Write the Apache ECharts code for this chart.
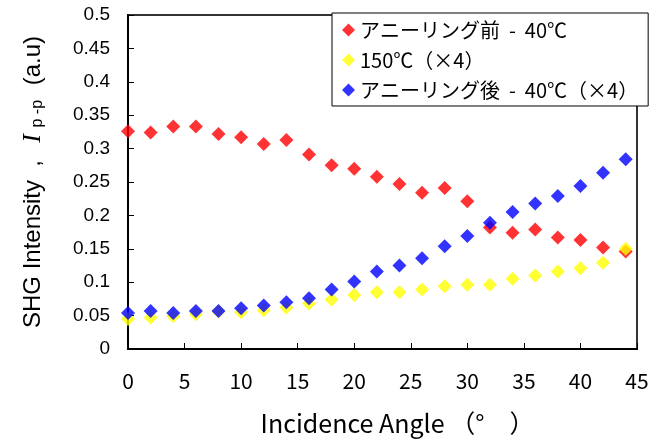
<!DOCTYPE html>
<html>
<head>
<meta charset="utf-8">
<script src="https://cdn.jsdelivr.net/npm/echarts@6/dist/echarts.min.js"></script>
<style>html,body{margin:0;padding:0;background:#fff;}#c{width:660px;height:441px;}</style>
</head>
<body>
<div id="c"></div>
<script>
const angles = [0,2,4,6,8,10,12,14,16,18,20,22,24,26,28,30,32,34,36,38,40,42,44];
const before40 = [0.326,0.324,0.333,0.333,0.322,0.317,0.307,0.313,0.291,0.275,0.270,0.258,0.247,0.234,0.241,0.221,0.182,0.174,0.179,0.167,0.163,0.152,0.146];
const c150x4 = [0.045,0.047,0.049,0.052,0.056,0.055,0.058,0.062,0.068,0.074,0.081,0.085,0.085,0.089,0.094,0.096,0.096,0.105,0.110,0.116,0.121,0.129,0.150];
const after40x4 = [0.054,0.057,0.054,0.057,0.057,0.061,0.065,0.070,0.076,0.089,0.101,0.116,0.125,0.136,0.154,0.169,0.189,0.205,0.218,0.229,0.244,0.264,0.284];
const seriesNames = ['アニーリング前  -  40℃','150℃（×4）','アニーリング後  -  40℃（×4）'];
const seriesColors = ['#ff0000','#ffff00','#0000ff'];
const xTicks = {min:0,max:45,interval:5};
const yTicks = {min:0,max:0.5,interval:0.05};

const chart = echarts.init(document.getElementById('c'), null, {renderer:'canvas'});
const mk = (name, vals, color) => ({
  name, type:'scatter', symbol:'diamond', symbolSize:14,
  itemStyle:{color:color},
  data: angles.map((a,i)=>[a, vals[i]])
});
chart.setOption({
  animation:false,
  backgroundColor:'#fff',
  grid:{left:128, top:15, width:509, height:335, show:true, borderColor:'#333', borderWidth:2, backgroundColor:'transparent'},
  legend:{
    orient:'vertical', left:332, top:13,
    backgroundColor:'#fff', borderColor:'#000', borderWidth:1, borderRadius:0,
    padding:[7,10,6,10], itemGap:10, itemWidth:13, itemHeight:13,
    icon:'diamond',
    textStyle:{fontFamily:'Noto Sans CJK JP', fontSize:20, color:'#000'},
    data: seriesNames
  },
  xAxis:{
    type:'value', min:xTicks.min, max:xTicks.max, interval:xTicks.interval,
    axisLine:{lineStyle:{color:'#000', width:2}},
    axisTick:{inside:true, length:6, lineStyle:{color:'#000'}},
    splitLine:{show:false},
    axisLabel:{fontFamily:'Noto Sans CJK JP', fontSize:21, color:'#000', margin:22},
    name:'Incidence Angle （°　）', nameLocation:'middle', nameGap:62,
    nameTextStyle:{fontFamily:'Noto Sans CJK JP', fontSize:25, color:'#000', padding:[0,0,0,30]}
  },
  yAxis:{
    type:'value', min:yTicks.min, max:yTicks.max, interval:yTicks.interval,
    axisLine:{lineStyle:{color:'#000', width:2}},
    axisTick:{inside:true, length:6, lineStyle:{color:'#000'}},
    splitLine:{show:false},
    axisLabel:{fontFamily:'Liberation Sans', fontSize:19, color:'#000', margin:18},
    name:'SHG Intensity  ,  {i|I}{s| p -p} (a.u)', nameLocation:'middle', nameGap:82, nameRotate:90,
    nameTextStyle:{fontFamily:'Liberation Sans', fontSize:24, color:'#000',
      rich:{
        i:{fontFamily:'Liberation Serif', fontStyle:'italic', fontSize:26, color:'#000', padding:[0,0,0,4]},
        s:{fontFamily:'Liberation Sans', fontSize:16, color:'#000', verticalAlign:'bottom', padding:[0,8,0,2]}
      }}
  },
  series:[
    mk(seriesNames[0], before40, seriesColors[0]),
    mk(seriesNames[1], c150x4, seriesColors[1]),
    mk(seriesNames[2], after40x4, seriesColors[2])
  ]
});
</script>
</body>
</html>
